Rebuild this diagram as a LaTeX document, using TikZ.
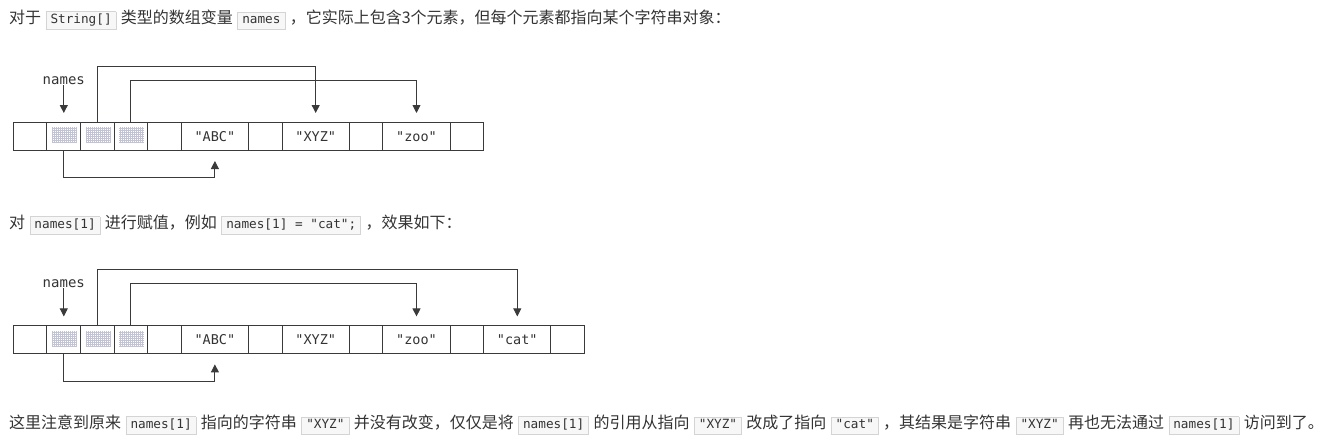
\documentclass[tikz,border=0pt]{standalone}
\usepackage{fontspec}
\setmainfont{Noto Sans CJK SC}
\newfontfamily\cjkfont{Noto Sans CJK SC}
\newfontfamily\monofont{DejaVu Sans Mono}
\usetikzlibrary{arrows.meta}
\definecolor{ink}{HTML}{333333}
\definecolor{lineink}{HTML}{3A3A3A}
\definecolor{codebg}{HTML}{F7F7F7}
\definecolor{codebd}{HTML}{D4D4D4}
\definecolor{hatchc}{HTML}{C2C4D6}
\newcommand\cbox[1]{\hspace{4.5pt}{\setlength\fboxsep{2pt}\setlength\fboxrule{0.6pt}\fcolorbox{codebd}{codebg}{\kern2.2pt\monofont\fontsize{12.7}{13}\selectfont\strut #1\kern2.2pt}}\hspace{4.5pt}}
\tikzset{
  cell/.style={draw=lineink, line width=0.9pt, minimum height=28pt, inner sep=0pt, outer sep=0pt, anchor=north west, font=\monofont\fontsize{13.5}{14}\selectfont, text=ink},
  ptr/.style={draw=lineink, line width=0.9pt, -{Triangle[width=8pt,length=8pt]}},
  prose/.style={anchor=west, inner sep=0pt, font=\cjkfont\fontsize{16}{18}\selectfont, text=ink},
  lbl/.style={inner sep=0pt, font=\monofont\fontsize{14}{14}\selectfont, text=ink},
}
\newcommand\hatchcell[1]{%
  \fill[white] ([xshift=5pt,yshift=-5pt]#1.north west) rectangle ([xshift=-4pt,yshift=7pt]#1.south east);
  \draw[hatchc, line width=0.45pt, step=2pt] ([xshift=5pt,yshift=-5pt]#1.north west) grid ([xshift=-4pt,yshift=7pt]#1.south east);}
\begin{document}
\begin{tikzpicture}[x=1pt,y=-1pt]
\useasboundingbox (0,0) rectangle (1334,444);

% prose lines
\node[prose] (t1) at (9,20) {对于\cbox{String[]}类型的数组变量\cbox{names}，它实际上包含3个元素，但每个元素都指向某个字符串对象：};
\node[prose] (t2) at (9,225) {对\cbox{names[1]}进行赋值，例如\cbox{names[1] = "cat";}，效果如下：};
\node[prose] (t3) at (9,425) {这里注意到原来\cbox{names[1]}指向的字符串\cbox{"XYZ"}并没有改变，仅仅是将\cbox{names[1]}的引用从指向\cbox{"XYZ"}改成了指向\cbox{"cat"}，其结果是字符串\cbox{"XYZ"}再也无法通过\cbox{names[1]}访问到了。};

% diagram 1
\def\u{33.6}
\foreach \n/\k/\w/\t in {1/0/1/{},2/1/1/{},3/2/1/{},4/3/1/{},5/4/1/{},6/5/2/{"ABC"},7/7/1/{},8/8/2/{"XYZ"},9/10/1/{},10/11/2/{"zoo"},11/13/1/{}}
  \node[cell, minimum width=\w*\u] (a\n) at (13.3+\k*\u,122.3) {\t};
\hatchcell{a2}\hatchcell{a3}\hatchcell{a4}
\node[lbl] (nm1) at (63.8,80.7) {names};
\draw[ptr, shorten >=9.3pt] (nm1.south) -- (nm1.south |- a2.north);
\draw[ptr, shorten >=9.3pt] (a3.north) -- ++(0,-56.3) -| (a8.north);
\draw[ptr, shorten >=9.3pt] (a4.north) -- ++(0,-41.6) -| (a10.north);
\draw[ptr, shorten >=10.7pt] (a2.south) -- ++(0,27.4) -| (a6.south);

% diagram 2
\foreach \n/\k/\w/\t in {1/0/1/{},2/1/1/{},3/2/1/{},4/3/1/{},5/4/1/{},6/5/2/{"ABC"},7/7/1/{},8/8/2/{"XYZ"},9/10/1/{},10/11/2/{"zoo"},11/13/1/{},12/14/2/{"cat"},13/16/1/{}}
  \node[cell, minimum width=\w*\u] (b\n) at (13.3+\k*\u,325.7) {\t};
\hatchcell{b2}\hatchcell{b3}\hatchcell{b4}
\node[lbl] (nm2) at (63.8,284.1) {names};
\draw[ptr, shorten >=9.3pt] (nm2.south) -- (nm2.south |- b2.north);
\draw[ptr, shorten >=9.3pt] (b3.north) -- ++(0,-56.4) -| (b12.north);
\draw[ptr, shorten >=9.3pt] (b4.north) -- ++(0,-42.4) -| (b10.north);
\draw[ptr, shorten >=10.7pt] (b2.south) -- ++(0,27.4) -| (b6.south);
\end{tikzpicture}
\end{document}
